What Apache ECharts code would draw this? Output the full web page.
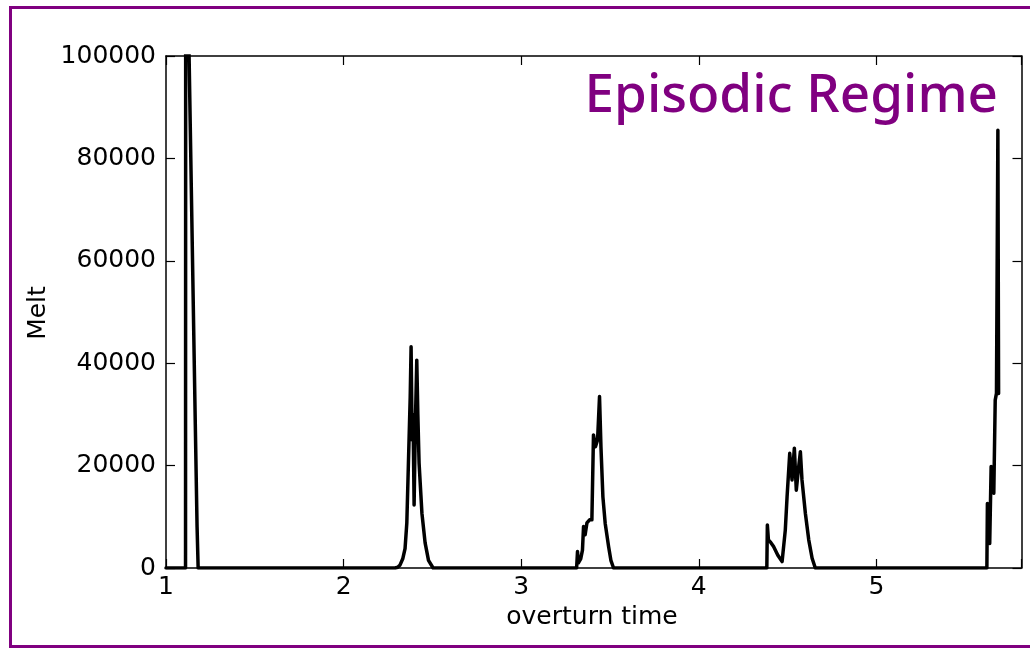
<!DOCTYPE html>
<html>
<head>
<meta charset="utf-8">
<script src="https://cdn.jsdelivr.net/npm/echarts@6/dist/echarts.min.js"></script>
<style>
html,body{margin:0;padding:0;background:#fff;}
#chart{width:1030px;height:649px;}
</style>
</head>
<body>
<div id="chart"></div>
<script>
// ---- data ----
const overturnTime = [
  1.000, 1.110, 1.111, 1.165, 1.175, 1.181,
  2.290, 2.305, 2.318, 2.333, 2.346, 2.356, 2.365, 2.375, 2.380, 2.386, 2.391, 2.397, 2.404, 2.412, 2.418, 2.425, 2.441, 2.459, 2.478, 2.504,
  3.312, 3.317, 3.322, 3.335, 3.345, 3.351, 3.360, 3.370, 3.385, 3.398, 3.407, 3.418, 3.430, 3.441, 3.449, 3.460, 3.473, 3.492, 3.505, 3.520,
  4.383, 4.386, 4.392, 4.405, 4.421, 4.445, 4.469, 4.487, 4.497, 4.512, 4.525, 4.538, 4.549, 4.560, 4.572, 4.581, 4.600, 4.619, 4.638, 4.656,
  5.622, 5.625, 5.631, 5.638, 5.646, 5.653, 5.661, 5.669, 5.676, 5.684, 5.688
];
const melt = [
  0, 0, 139000, 28000, 8000, 0,
  0, 150, 600, 1800, 3800, 8800, 20500, 33400, 43200, 25000, 30000, 12300, 28000, 40600, 30000, 20500, 10700, 4900, 1500, 0,
  0, 3200, 1000, 1800, 3500, 8100, 6500, 8800, 9400, 9400, 26000, 23700, 25000, 33500, 23700, 13900, 8700, 4200, 1500, 0,
  0, 8400, 5500, 5000, 4200, 2500, 1250, 7400, 13900, 22400, 17200, 23400, 15200, 19000, 22700, 17200, 10700, 5500, 1900, 0,
  0, 12600, 8000, 4800, 19800, 16000, 14600, 32800, 34100, 85500, 34100
];
const xTickLabels = ['1', '2', '3', '4', '5'];
const yTickLabels = ['0', '20000', '40000', '60000', '80000', '100000'];
const titleText = 'Episodic Regime';
const xName = 'overturn time';
const yName = 'Melt';

const chart = echarts.init(document.getElementById('chart'), null, {renderer: 'canvas'});
const seriesData = overturnTime.map((t, i) => [t, melt[i]]);
const font = 'DejaVu Sans';
const axisCommon = {
  type: 'value',
  axisLine: {show: true, onZero: false, lineStyle: {color: '#000', width: 1.5}},
  axisTick: {show: true, inside: true, length: 9, lineStyle: {color: '#000', width: 1.2}},
  splitLine: {show: false}
};

chart.setOption({
  animation: false,
  backgroundColor: '#fff',
  grid: {left: 166, right: 8.5, top: 56, bottom: 81, containLabel: false},
  xAxis: [
    Object.assign({}, axisCommon, {
      position: 'bottom', min: 1, max: 5.817, interval: 1,
      axisLabel: {
        show: true, margin: 7, color: '#000', fontFamily: font, fontSize: 25,
        formatter: v => { const s = String(Math.round(v)); return (Math.abs(v - Math.round(v)) < 1e-6 && xTickLabels.includes(s)) ? s : ''; }
      }
    }),
    Object.assign({}, axisCommon, {
      position: 'top', min: 1, max: 5.817, interval: 1, axisLabel: {show: false}
    })
  ],
  yAxis: [
    Object.assign({}, axisCommon, {
      position: 'left', min: 0, max: 100000, interval: 20000,
      axisLabel: {
        show: true, margin: 10, color: '#000', fontFamily: font, fontSize: 25,
        formatter: v => { const s = String(Math.round(v)); return yTickLabels.includes(s) ? s : ''; }
      }
    }),
    Object.assign({}, axisCommon, {
      position: 'right', min: 0, max: 100000, interval: 20000, axisLabel: {show: false}
    })
  ],
  series: [{
    type: 'line',
    data: seriesData,
    xAxisIndex: 0, yAxisIndex: 0,
    showSymbol: false,
    clip: true,
    lineStyle: {color: '#000', width: 3.5, join: 'round', cap: 'round'},
    itemStyle: {color: '#000'}
  }],
  graphic: [
    {type: 'rect', silent: true, z: -1, shape: {x: 10.5, y: 7.5, width: 1040, height: 639},
      style: {fill: 'none', stroke: '#800080', lineWidth: 3}},
    {type: 'text', x: 998, y: 70, silent: true, z: 10,
      style: {text: titleText, fill: '#800080', fontFamily: 'Noto Sans', fontSize: 53, fontWeight: 500,
        textAlign: 'right', textVerticalAlign: 'top'}},
    {type: 'text', x: 592, y: 617, silent: true,
      style: {text: xName, fill: '#000', fontFamily: font, fontSize: 25, textAlign: 'center', textVerticalAlign: 'middle'}},
    {type: 'text', x: 38, y: 313, rotation: Math.PI / 2, silent: true,
      style: {text: yName, fill: '#000', fontFamily: font, fontSize: 25, textAlign: 'center', textVerticalAlign: 'middle'}}
  ]
});
</script>
</body>
</html>
